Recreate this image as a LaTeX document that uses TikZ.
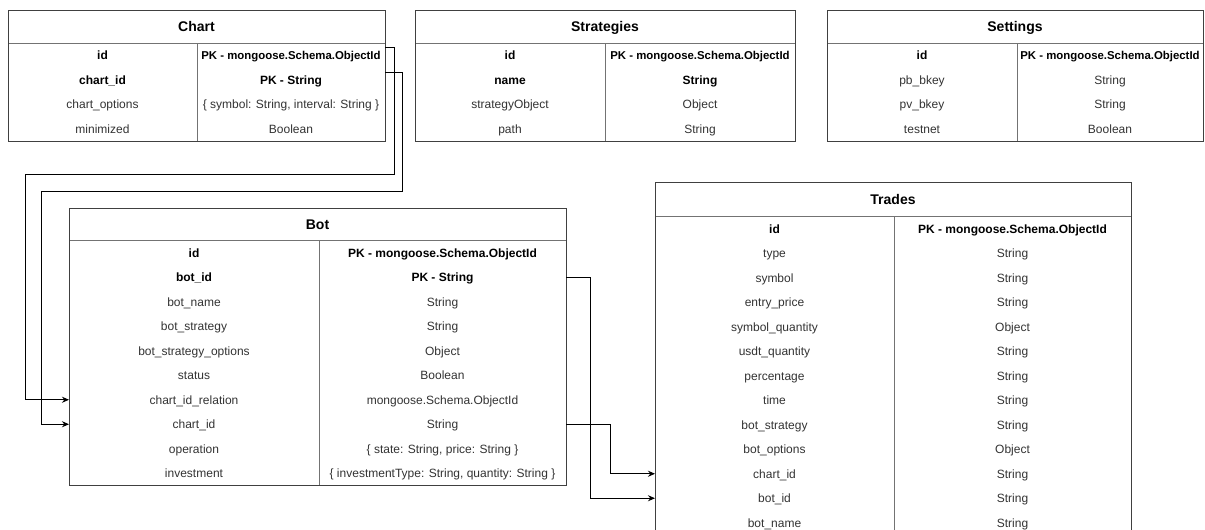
\documentclass[tikz,border=0pt]{standalone}
\usepackage{fontspec}
\setmainfont{Liberation Sans}
\usetikzlibrary{arrows.meta,calc}

\tikzset{
  headcell/.style={inner sep=0pt, outer sep=0pt, anchor=north west, text=black,
    font=\fontsize{14}{16}\selectfont\bfseries, text height=12pt, text depth=2pt},
  cell/.style={inner sep=0pt, outer sep=0pt, minimum height=24.5pt, text height=10.5pt, text depth=2pt},
  rowtxt/.style={font=\fontsize{12}{14}\selectfont, text=black!80},
  rowbold/.style={font=\fontsize{12}{14}\selectfont\bfseries, text=black},
  frame/.style={draw=black!75, line width=1pt},
  inner/.style={draw=black!55, line width=1pt},
  link/.style={draw=black, line width=1pt, -{Stealth[length=7pt,width=6pt]}}
}

% narrower key type used in the small tables
\newcommand{\pkid}{{\fontsize{11.4}{13}\selectfont PK - mongoose.Schema.ObjectId}}

% table title bar: name, x, y, width, height, title
\newcommand{\erhead}[6]{%
  \node[headcell, minimum width=#4pt, minimum height=#5pt] (#1-head) at (#2,#3) {#6};}
% one field row: [style] table, index, node above, field, type
\newcommand{\errow}[6][rowtxt]{%
  \node[cell,#1,minimum width=\lw pt,anchor=north west] (#2-l#3) at (#4.south west) {#5};
  \node[cell,#1,minimum width=\rw pt,anchor=north west] (#2-r#3) at (#2-l#3.north east) {#6};}
% outline, title rule and column rule: table, last index
\newcommand{\erframe}[2]{%
  \draw[inner] (#1-head.south west) -- (#1-head.south east);
  \draw[inner] (#1-l0.north east) -- (#1-l#2.south east);
  \draw[frame] (#1-head.north west) rectangle (#1-r#2.south east);}

\begin{document}
\begin{tikzpicture}[x=1pt, y=-1pt]
\useasboundingbox (0,0) rectangle (1205,530);
\fill[white] (0,0) rectangle (1205,530);
\clip (0,0) rectangle (1205,530);

% ---- Chart ----
\def\lw{189}\def\rw{188}
\erhead{chart}{8}{10}{377}{33}{Chart}
\errow[rowbold]{chart}{0}{chart-head}{id}{\pkid}
\errow[rowbold]{chart}{1}{chart-l0}{chart\_id}{PK - String}
\errow{chart}{2}{chart-l1}{chart\_options}{\{ symbol: String, interval: String \}}
\errow{chart}{3}{chart-l2}{minimized}{Boolean}
\erframe{chart}{3}

% ---- Strategies ----
\def\lw{190}\def\rw{190}
\erhead{strat}{415}{10}{380}{33}{Strategies}
\errow[rowbold]{strat}{0}{strat-head}{id}{\pkid}
\errow[rowbold]{strat}{1}{strat-l0}{name}{String}
\errow{strat}{2}{strat-l1}{strategyObject}{Object}
\errow{strat}{3}{strat-l2}{path}{String}
\erframe{strat}{3}

% ---- Settings ----
\def\lw{190}\def\rw{186}
\erhead{set}{827}{10}{376}{33}{Settings}
\errow[rowbold]{set}{0}{set-head}{id}{\pkid}
\errow{set}{1}{set-l0}{pb\_bkey}{String}
\errow{set}{2}{set-l1}{pv\_bkey}{String}
\errow{set}{3}{set-l2}{testnet}{Boolean}
\erframe{set}{3}

% ---- Bot ----
\def\lw{250}\def\rw{247}
\erhead{bot}{69}{208}{497}{32.5}{Bot}
\errow[rowbold]{bot}{0}{bot-head}{id}{PK - mongoose.Schema.ObjectId}
\errow[rowbold]{bot}{1}{bot-l0}{bot\_id}{PK - String}
\errow{bot}{2}{bot-l1}{bot\_name}{String}
\errow{bot}{3}{bot-l2}{bot\_strategy}{String}
\errow{bot}{4}{bot-l3}{bot\_strategy\_options}{Object}
\errow{bot}{5}{bot-l4}{status}{Boolean}
\errow{bot}{6}{bot-l5}{chart\_id\_relation}{mongoose.Schema.ObjectId}
\errow{bot}{7}{bot-l6}{chart\_id}{String}
\errow{bot}{8}{bot-l7}{operation}{\{ state: String, price: String \}}
\errow{bot}{9}{bot-l8}{investment}{\{ investmentType: String, quantity: String \}}
\erframe{bot}{9}

% ---- Trades ----
\def\lw{239}\def\rw{237}
\erhead{trades}{655}{182}{476}{34.5}{Trades}
\errow[rowbold]{trades}{0}{trades-head}{id}{PK - mongoose.Schema.ObjectId}
\errow{trades}{1}{trades-l0}{type}{String}
\errow{trades}{2}{trades-l1}{symbol}{String}
\errow{trades}{3}{trades-l2}{entry\_price}{String}
\errow{trades}{4}{trades-l3}{symbol\_quantity}{Object}
\errow{trades}{5}{trades-l4}{usdt\_quantity}{String}
\errow{trades}{6}{trades-l5}{percentage}{String}
\errow{trades}{7}{trades-l6}{time}{String}
\errow{trades}{8}{trades-l7}{bot\_strategy}{String}
\errow{trades}{9}{trades-l8}{bot\_options}{Object}
\errow{trades}{10}{trades-l9}{chart\_id}{String}
\errow{trades}{11}{trades-l10}{bot\_id}{String}
\errow{trades}{12}{trades-l11}{bot\_name}{String}
\erframe{trades}{12}

% ---- relations ----
\draw[link] ($(chart-r0.north east)+(0,4)$) -- ++(9,0) |- (25,174) |- (bot-l6.west);
\draw[link] ($(chart-r1.north east)+(0,4.5)$) -- ++(17,0) |- (41,191) |- (bot-l7.west);
\draw[link] (bot-r1.east) -- ++(24,0) |- (trades-l11.west);
\draw[link] (bot-r7.east) -- ++(44,0) |- (trades-l10.west);
\end{tikzpicture}
\end{document}
